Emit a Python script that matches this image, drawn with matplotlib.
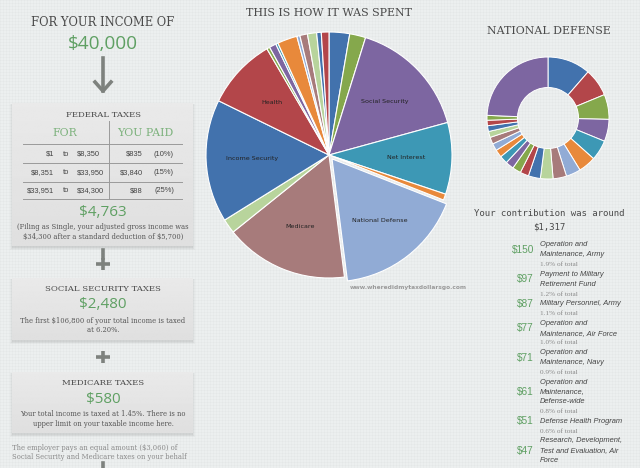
import numpy as np
import matplotlib
matplotlib.use('Agg')
import matplotlib.pyplot as plt
from matplotlib.patches import Rectangle

# ---- values ----
income = '$40,000'

brackets_lo = ['$1', '$8,351', '$33,951']
brackets_hi = ['$8,350', '$33,950', '$34,300']
paid = ['$835', '$3,840', '$88']
rates = ['(10%)', '(15%)', '(25%)']
federal_total = '$4,763'
federal_note = ['(Filing as Single, your adjusted gross income was',
                '$34,300 after a standard deduction of $5,700)']

ss_total = '$2,480'
ss_note = ['The first $106,800 of your total income is taxed', 'at 6.20%.']
medicare_total = '$580'
medicare_note = ['Your total income is taxed at 1.45%. There is no',
                 'upper limit on your taxable income here.']
employer_note = ['The employer pays an equal amount ($3,060) of',
                 'Social Security and Medicare taxes on your behalf']

# main pie, clockwise from 12 o'clock (percent of spending)
spend_labels = ['', '', 'Social Security', 'Net Interest', '', 'National Defense',
                'Medicare', '', 'Income Security', 'Health',
                '', '', '', '', '', '', '', '', '']
spend_share = [2.7, 2.1, 15.9, 9.4, 0.8, 17.0, 16.2, 1.9, 16.1, 9.3,
               0.4, 0.9, 0.3, 2.6, 0.4, 1.0, 1.2, 0.6, 1.0]

# national defense donut (dollars of your contribution)
defense_total = '$1,317'
defense_amounts = [150, 97, 87, 77, 71, 61, 51, 47]
defense_smaller = [44, 42, 30, 30, 29, 28, 27, 25, 24, 21, 20, 19, 17]
defense_rest = 320
item_desc = ['Operation and\nMaintenance, Army',
             'Payment to Military\nRetirement Fund',
             'Military Personnel, Army',
             'Operation and\nMaintenance, Air Force',
             'Operation and\nMaintenance, Navy',
             'Operation and\nMaintenance,\nDefense-wide',
             'Defense Health Program',
             'Research, Development,\nTest and Evaluation, Air\nForce']
item_pct = ['1.9% of total', '1.2% of total', '1.1% of total', '1.0% of total',
            '0.9% of total', '0.8% of total', '0.6% of total', '']

# ---- style ----
GREEN = '#5fa063'
LGREEN_TXT = '#7db27d'
DARK = '#4a4a4a'
GREY = '#7e827e'
blue, red, green, purple = '#4272ad', '#b3464a', '#85a84c', '#7d66a1'
teal, orange, lblue, mauve, lgreen = '#3d98b5', '#e8893b', '#91abd5', '#a77b7b', '#b8d49c'
cycle = [blue, red, green, purple, teal, orange, lblue, mauve, lgreen]
spend_colors = [blue, green, purple, teal, orange, lblue, mauve, lgreen, blue, red,
                green, purple, teal, orange, lblue, mauve, lgreen, blue, red]

fig = plt.figure(figsize=(6.4, 4.68), dpi=100)
ax = fig.add_axes([0, 0, 1, 1])

# textured background
bg = np.ones((468, 640, 3)) * np.array([0.928, 0.940, 0.940])
bg[::3, :, :] -= 0.016
bg[:, ::3, :] -= 0.016
ax.imshow(bg, extent=(0, 640, 468, 0), zorder=0, interpolation='nearest', aspect='auto')
ax.set_xlim(0, 640)
ax.set_ylim(468, 0)
ax.axis('off')


def put(x, y, s, size, color=DARK, family='DejaVu Serif', ha='center', **kw):
    ax.text(x, y, s, fontsize=size, color=color, family=family, ha=ha, va='center',
            zorder=5, parse_math=False, **kw)


def panel(x0, y0, x1, y1):
    for k, a in [(3, 0.05), (2, 0.07), (1, 0.09)]:
        ax.add_patch(Rectangle((x0 - k + 1, y0 + 1), x1 - x0 + 2 * k - 2, y1 - y0 + k,
                               fc='#6a6a6a', ec='none', alpha=a, zorder=1))
    grad = np.linspace(0.915, 0.875, 60)[:, None] * np.ones((1, 2))
    ax.imshow(grad, extent=(x0, x1, y1, y0), cmap='gray', vmin=0, vmax=1, zorder=2,
              aspect='auto', interpolation='bilinear')


def plus(cx, cy):
    ax.plot([cx - 7, cx + 7], [cy, cy], color=GREY, lw=2.6, solid_capstyle='butt', zorder=3)
    ax.plot([cx, cx], [cy - 6, cy + 6], color=GREY, lw=2.6, solid_capstyle='butt', zorder=3)


# ---- left column ----
cx = 103
put(cx, 23, 'FOR YOUR INCOME OF', 8.3)
put(cx, 44, income, 13.7, GREEN, 'Open Sans')
ax.plot([cx, cx], [58, 91], color=GREY, lw=2.6, zorder=3)
ax.plot([cx - 8, cx, cx + 8], [82, 91, 82], color=GREY, lw=2.6, zorder=3)

panel(12, 103, 193, 246)
put(cx, 115, 'FEDERAL TAXES', 6.1)
put(65, 133, 'FOR', 7.8, LGREEN_TXT)
put(145, 133, 'YOU PAID', 7.8, LGREEN_TXT)
for yy in [144, 163, 182, 199]:
    ax.plot([23, 182], [yy, yy], color='#9a9a9a', lw=0.7, zorder=3)
ax.plot([109, 109], [121, 199], color='#9a9a9a', lw=0.7, zorder=3)
for i, yy in enumerate([154, 173, 191]):
    put(54, yy, brackets_lo[i], 5.4, '#444444', 'Liberation Sans', ha='right')
    put(66, yy, 'to', 5.4, '#444444', 'Liberation Sans')
    put(77, yy, brackets_hi[i], 5.4, '#444444', 'Liberation Sans', ha='left')
    put(143, yy, paid[i], 5.4, '#444444', 'Liberation Sans', ha='right')
    put(164, yy, rates[i], 5.4, '#444444', 'Liberation Sans')
put(cx, 212, federal_total, 11, GREEN, 'Open Sans')
put(cx, 227, federal_note[0], 4.9, '#555555')
put(cx, 237, federal_note[1], 4.9, '#555555')

ax.plot([cx, cx], [250, 258], color=GREY, lw=2.6, zorder=3)
plus(cx, 264)

panel(12, 278, 193, 340)
put(cx, 289, 'SOCIAL SECURITY TAXES', 6.1)
put(cx, 305, ss_total, 11, GREEN, 'Open Sans')
put(cx, 321, ss_note[0], 4.9, '#555555')
put(cx, 330, ss_note[1], 4.9, '#555555')

plus(cx, 357)

panel(12, 372, 193, 433)
put(cx, 383, 'MEDICARE TAXES', 6.1)
put(cx, 399, medicare_total, 11, GREEN, 'Open Sans')
put(cx, 414, medicare_note[0], 4.9, '#555555')
put(cx, 424, medicare_note[1], 4.9, '#555555')

put(12, 448, employer_note[0], 4.9, '#8a8a8a', ha='left')
put(12, 457, employer_note[1], 4.9, '#8a8a8a', ha='left')
ax.plot([cx, cx], [463, 470], color=GREY, lw=2.6, zorder=3)

# ---- middle pie ----
put(329, 13, 'THIS IS HOW IT WAS SPENT', 7.9)
R, M = 123, 134
pax = fig.add_axes([(329 - M) / 640, 1 - (155 + M) / 468, 2 * M / 640, 2 * M / 468])
explode = [0.04 if lab == 'National Defense' else 0 for lab in spend_labels]
wedges, texts = pax.pie(spend_share, labels=spend_labels, colors=spend_colors,
                        startangle=90, counterclock=False, explode=explode,
                        labeldistance=0.63,
                        wedgeprops=dict(edgecolor='white', linewidth=0.8),
                        textprops=dict(fontsize=4.6, color='#222222'))
for t in texts:
    t.set_horizontalalignment('center')
pax.set_xlim(-M / R, M / R)
pax.set_ylim(-M / R, M / R)
put(408, 287, 'www.wheredidmytaxdollarsgo.com', 4.2, '#9a9a9a', 'DejaVu Sans',
    fontweight='bold')

# ---- right column ----
put(549, 31, 'NATIONAL DEFENSE', 7.9)
r_out, m2 = 61, 66
dax = fig.add_axes([(548 - m2) / 640, 1 - (118 + m2) / 468, 2 * m2 / 640, 2 * m2 / 468])
dvals = defense_amounts + defense_smaller + [defense_rest]
dcols = [cycle[i % len(cycle)] for i in range(len(dvals))]
dax.pie(dvals, colors=dcols, startangle=90, counterclock=False,
        wedgeprops=dict(width=0.5, edgecolor='white', linewidth=0.7))
dax.set_xlim(-m2 / r_out, m2 / r_out)
dax.set_ylim(-m2 / r_out, m2 / r_out)

put(549, 214, 'Your contribution was around', 6.5, DARK, 'DejaVu Sans Mono')
put(549, 227, defense_total, 6.5, DARK, 'DejaVu Sans Mono')

step = 9.8
y = 245
for amt, desc, pct in zip(defense_amounts, item_desc, item_pct):
    lines = desc.split('\n')
    n = len(lines)
    put(534, y + (n - 1) * step / 2, '$%d' % amt, 7.3, GREEN, 'Liberation Sans', ha='right')
    for j, ln in enumerate(lines):
        put(540, y + j * step, ln, 5.4, '#444444', 'Liberation Sans', ha='left',
            style='italic')
    if pct:
        put(540, y + n * step, pct, 5.2, '#8a8a8a', 'Liberation Serif', ha='left')
    y += (n + 1) * step

fig.savefig('out.png', dpi=100)
